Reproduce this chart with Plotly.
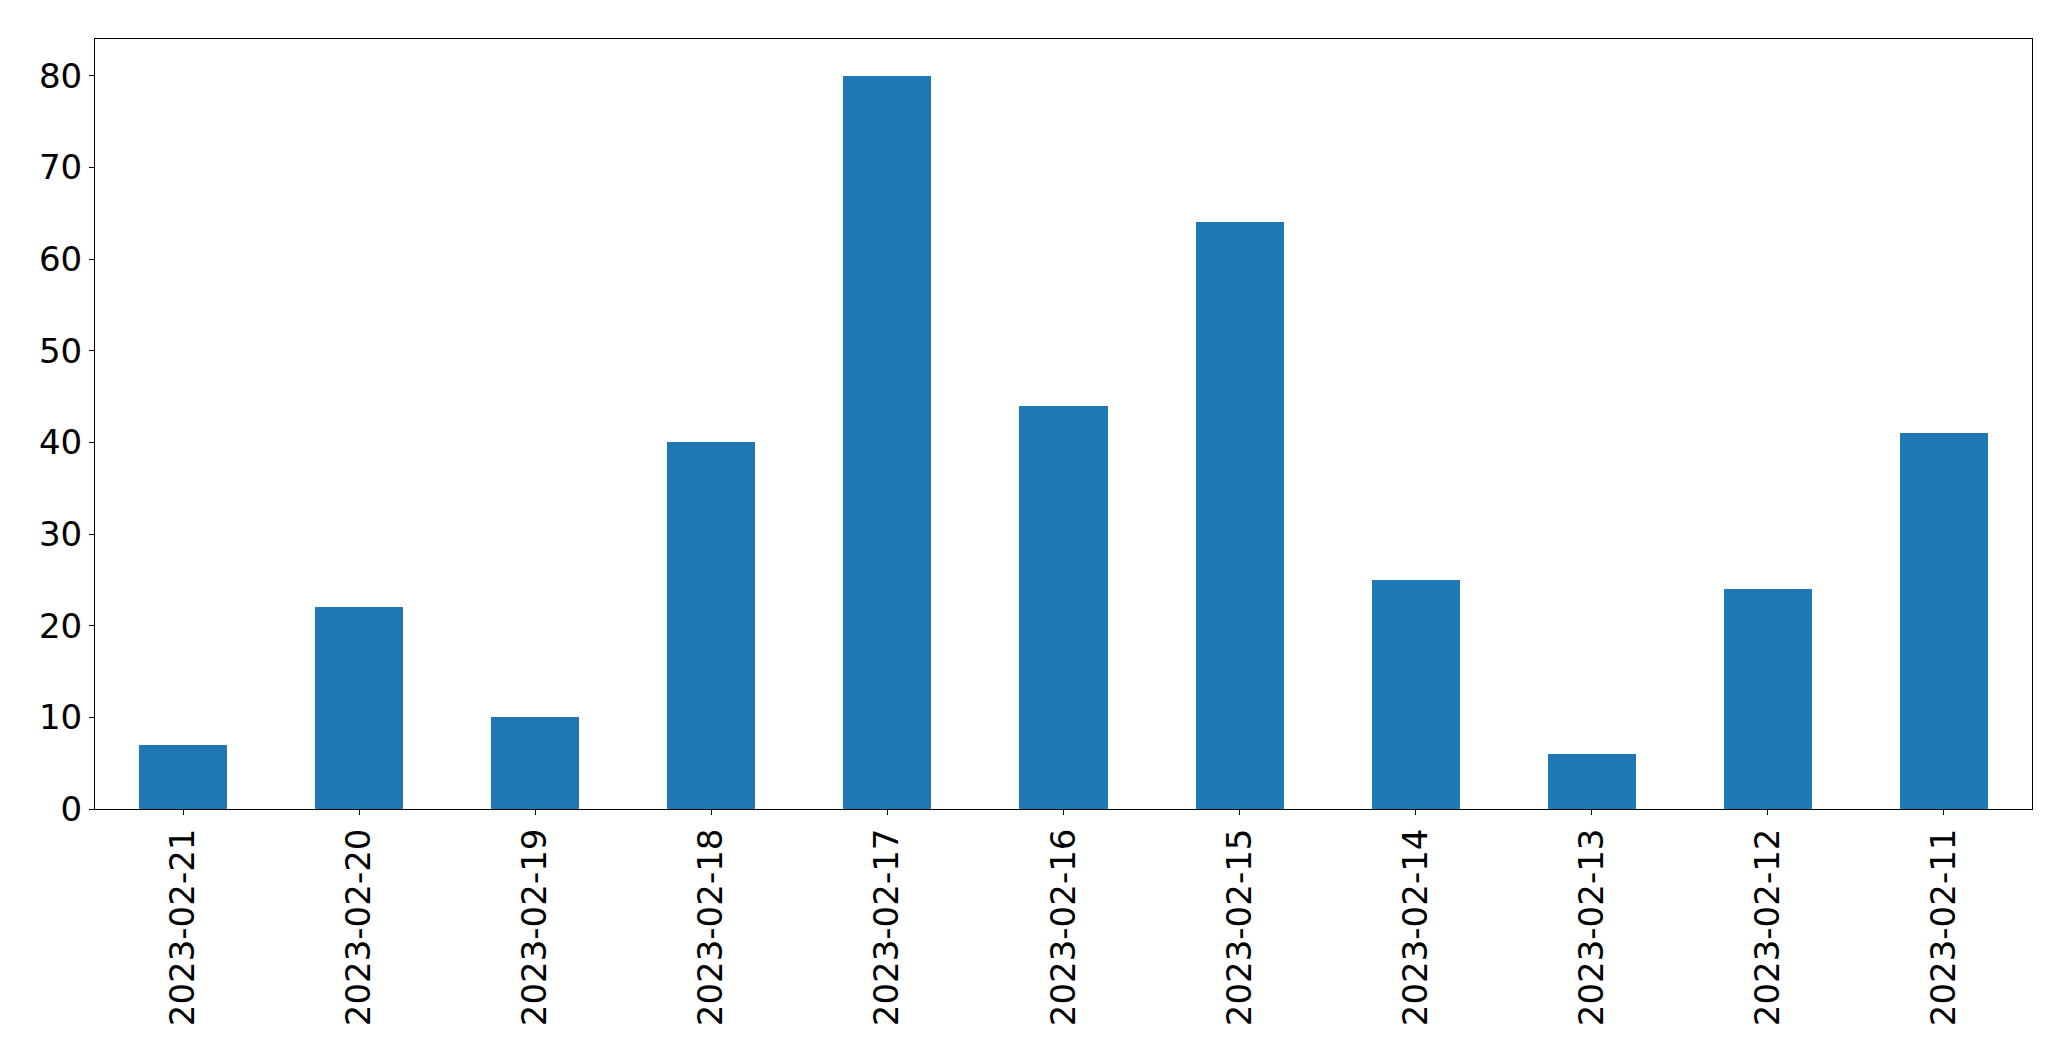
import plotly.graph_objects as go

dates = ["2023-02-21", "2023-02-20", "2023-02-19", "2023-02-18", "2023-02-17", "2023-02-16",
         "2023-02-15", "2023-02-14", "2023-02-13", "2023-02-12", "2023-02-11"]
counts = [7, 22, 10, 40, 80, 44, 64, 25, 6, 24, 41]
y_ticks = [0, 10, 20, 30, 40, 50, 60, 70, 80]

fig = go.Figure(go.Bar(x=dates, y=counts, width=0.5, marker=dict(color="#1f77b4", line=dict(width=0))))

font = dict(family="DejaVu Sans", size=34, color="black")
fig.update_layout(
    width=2063, height=1053,
    margin=dict(l=87, r=39, t=31, b=252, pad=0),
    plot_bgcolor="white", paper_bgcolor="white",
    font=font, showlegend=False, bargap=0,
)
fig.update_xaxes(type="category", range=[-0.5, 10.5], tickangle=-90, ticks="outside", ticklen=5,
                 tickcolor="black", tickwidth=1, showline=True, linecolor="black", linewidth=1,
                 mirror=True, showgrid=False, tickfont=font)
fig.update_yaxes(range=[0, 84], tickvals=y_ticks, ticks="outside", ticklen=5, tickcolor="black",
                 tickwidth=1, showline=True, linecolor="black", linewidth=1, mirror=True,
                 showgrid=False, zeroline=False, tickfont=font)

fig.write_html("out.html")
